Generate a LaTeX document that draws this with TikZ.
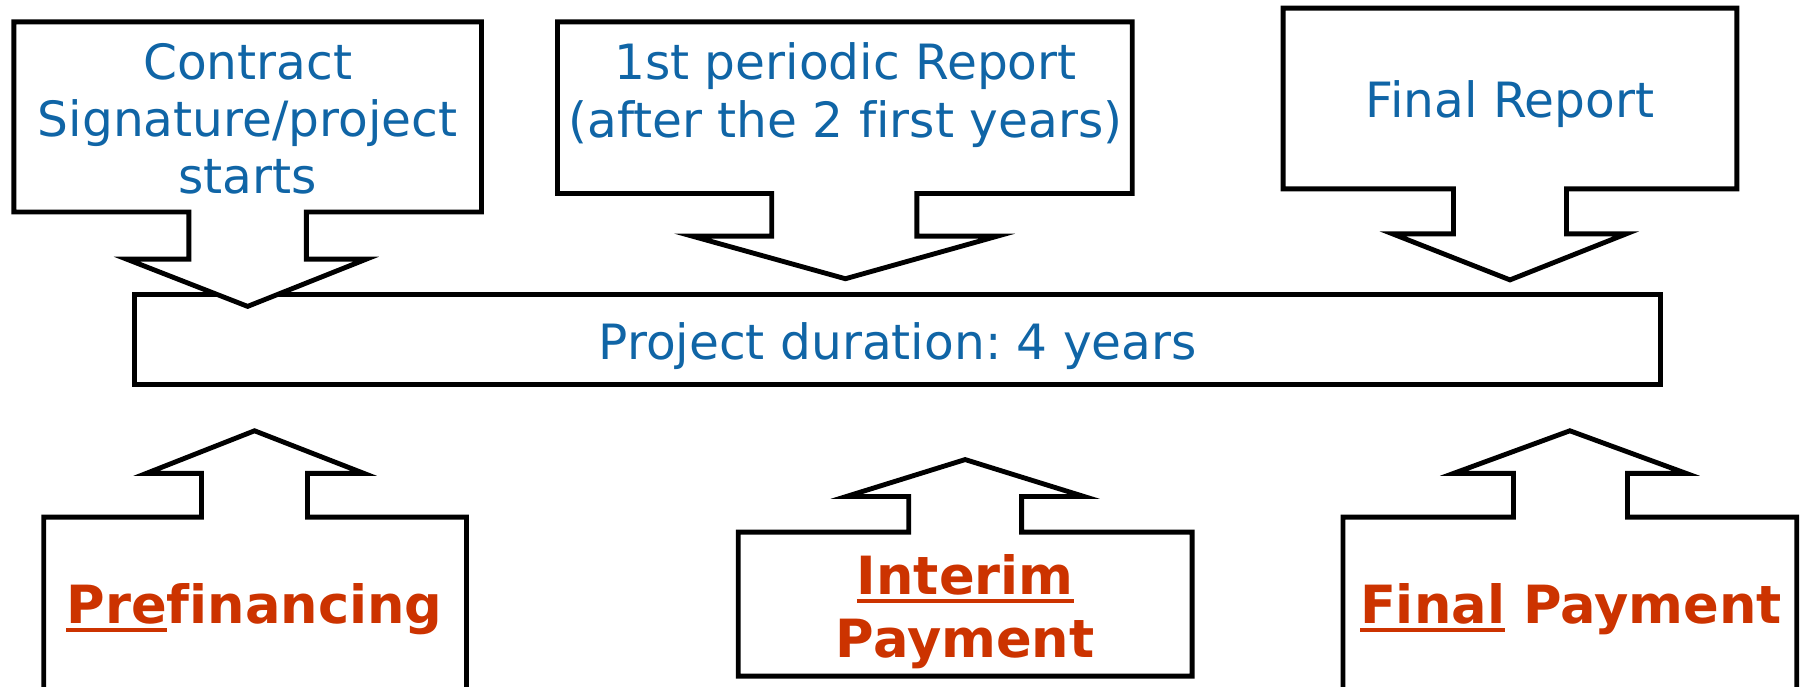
\documentclass[tikz,border=0pt]{standalone}
\usepackage{fontspec}
\setmainfont{DejaVu Sans}[Ligatures=NoCommon]
\frenchspacing
\definecolor{repblue}{RGB}{16,101,166}
\definecolor{payred}{RGB}{204,51,0}
\newcommand{\ulpart}[1]{{\setbox0\hbox{#1}\rlap{\rule[-2.1pt]{\wd0}{1pt}}\box0}}
\tikzset{co/.style={draw=black,line width=1.2pt,fill=white}}
\tikzset{t/.style={font=\fontsize{12}{14.1}\selectfont,text=repblue,align=center,inner sep=0pt}}
\tikzset{p/.style={font=\fontsize{13}{15.7}\selectfont\bfseries,text=payred,align=center,inner sep=0pt}}

\begin{document}
\begin{tikzpicture}[x=0.01cm,y=-0.01cm]
          \useasboundingbox (0,0) rectangle (1568,596);
          \clip (0,0) rectangle (1568,596);
          % duration bar
          \draw[co] (117,256) rectangle (1442,334);
          \node[t,anchor=base] (PD) at (779.5,312) {Project duration: 4 years};
          % reports, pointing down
          \draw[co] (12,19) -- (418,19) -- (418,184) -- (266,184) -- (266,225) -- (318,225) -- (215,266)
            -- (110,225) -- (164,225) -- (164,184) -- (12,184) -- cycle;
          \draw[co] (484,19) -- (983,19) -- (983,168) -- (796,168) -- (796,205) -- (866,205) -- (734,242)
            -- (601,205) -- (670,205) -- (670,168) -- (484,168) -- cycle;
          \draw[co] (1114,7) -- (1508,7) -- (1508,164) -- (1360,164) -- (1360,203) -- (1412,203) -- (1311,243)
            -- (1209,203) -- (1262,203) -- (1262,164) -- (1114,164) -- cycle;
          % base = last line
          \node[t,anchor=base] (CS) at (215,168) {Contract\\Signature/project\\starts};
          \node[t,anchor=base] (PR) at (734,119) {1st periodic Report\\(after the 2 first years)};
          \node[t,anchor=base] (FR) at (1311,102) {Final Report};
          % payments, pointing up
          \draw[co] (38,610) -- (38,449) -- (175,449) -- (175,411) -- (127,411) -- (221,374)
            -- (316,411) -- (267,411) -- (267,449) -- (405,449) -- (405,610);
          \draw[co] (641,587) -- (641,462) -- (789,462) -- (789,431) -- (735,431) -- (838,399)
            -- (941,431) -- (887,431) -- (887,462) -- (1035,462) -- (1035,587) -- cycle;
          \draw[co] (1166,610) -- (1166,449) -- (1314,449) -- (1314,411) -- (1262,411) -- (1363,374)
            -- (1464,411) -- (1413,411) -- (1413,449) -- (1560,449) -- (1560,610);
          \node[p,anchor=base] (PF) at (221,541) {\ulpart{Pre}financing};
          \node[p,anchor=base] (IP) at (838,571) {\ulpart{Interim}\\Payment};
          \node[p,anchor=base] (FP) at (1364,541) {\ulpart{Final} Payment};
        \end{tikzpicture}
\end{document}
